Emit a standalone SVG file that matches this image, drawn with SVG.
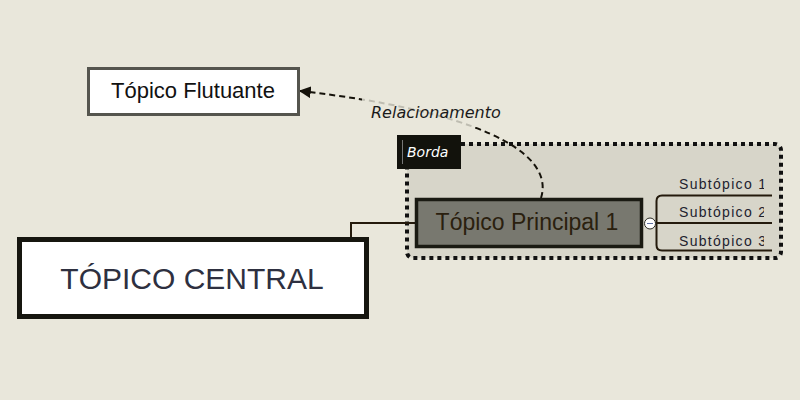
<svg xmlns="http://www.w3.org/2000/svg" width="800" height="400" viewBox="0 0 800 400">
<defs>
<style>
.sans{font-family:"Liberation Sans",Arial,sans-serif}
.ver{font-family:"DejaVu Sans",Verdana,sans-serif;font-style:italic}
.sub{font-family:"Liberation Sans",Arial,sans-serif;font-size:14px;fill:#22222e;letter-spacing:1.3px}
.conn{fill:none;stroke:#241a0c;stroke-width:2}
</style>
<marker id="arr" viewBox="0 0 10 10" refX="9" refY="5" markerWidth="12" markerHeight="12" markerUnits="userSpaceOnUse" orient="auto">
<path d="M0,0 L10,5 L0,10 z" fill="#15120a"/>
</marker>
<clipPath id="subclip"><rect x="660" y="170" width="104" height="85"/></clipPath>
</defs>
<rect width="800" height="400" fill="#e9e7db"/>

<g id="boundary">
<rect x="407" y="144" width="374" height="114" rx="6" fill="#d7d5c9" stroke="#111" stroke-width="4" stroke-dasharray="4 4"/>
<rect x="397" y="135" width="64" height="34" fill="#12120c"/>
<line x1="402.5" y1="140" x2="402.5" y2="164" stroke="#777" stroke-width="1"/>
<text x="407" y="157" class="ver" font-size="14" fill="#ffffff">Borda</text>
</g>

<g id="connectors">
<path class="conn" d="M351,238 V223 H416"/>
<path class="conn" d="M645,223 H772"/>
<path class="conn" stroke-width="1.2" d="M772,195.5 H662 Q656.5,195.5 656.5,201 V245 Q656.5,250.5 662,250.5 H772"/>
<path d="M541,198 C556,150 470,110 300,91" fill="none" stroke="#15120a" stroke-width="2" stroke-dasharray="6 4" marker-end="url(#arr)"/>
</g>

<g id="relationship-label">
<rect x="362" y="97" width="133" height="30" fill="#e9e7db" opacity="0.8"/>
<text x="371" y="118" class="ver" font-size="16" fill="#1a1a1a">Relacionamento</text>
</g>

<g id="central-topic">
<rect x="19.5" y="239.5" width="347" height="77" fill="#ffffff" stroke="#16160f" stroke-width="5"/>
<text x="192" y="289" class="sans" font-size="30" fill="#2e3040" text-anchor="middle">TÓPICO CENTRAL</text>
</g>

<g id="floating-topic">
<rect x="88.5" y="68.5" width="210" height="46" fill="#ffffff" stroke="#55554e" stroke-width="3"/>
<text x="193" y="98" class="sans" font-size="22" fill="#111" text-anchor="middle">Tópico Flutuante</text>
</g>

<g id="main-topic">
<rect x="416.5" y="199.5" width="225" height="47" fill="#78786f" stroke="#1a1a12" stroke-width="3.5"/>
<text x="527" y="230" class="sans" font-size="23" fill="#2a200e" text-anchor="middle">Tópico Principal 1</text>
<circle cx="650" cy="223.5" r="5.5" fill="#ffffff" stroke="#2a2a22" stroke-width="1"/>
<line x1="647" y1="223.5" x2="653" y2="223.5" stroke="#6070a0" stroke-width="1"/>
</g>

<g id="subtopics" clip-path="url(#subclip)">
<g id="sub1"><text x="679" y="189" class="sub">Subtópico 1</text></g>
<g id="sub2"><text x="679" y="217" class="sub">Subtópico 2</text></g>
<g id="sub3"><text x="679" y="246" class="sub">Subtópico 3</text></g>
</g>
</svg>
